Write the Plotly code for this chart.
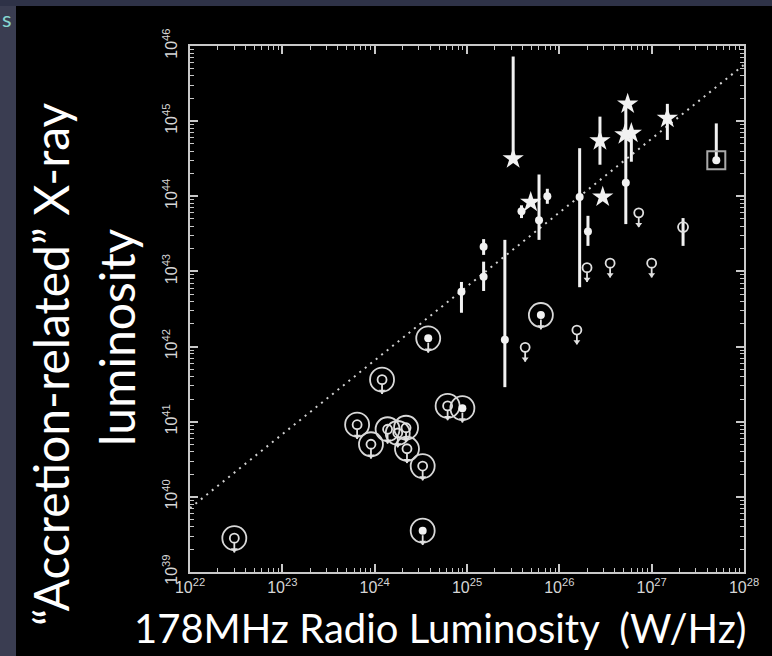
import numpy as np
import plotly.graph_objects as go

# ---------------- data (log10 units) ----------------
x_tick_exp = [22, 23, 24, 25, 26, 27, 28]
y_tick_exp = [39, 40, 41, 42, 43, 44, 45, 46]

# circled upper limits (open inner circle)
circ_open_x = [22.48, 23.81, 23.96, 24.14, 24.25, 24.34, 24.35, 24.52, 24.08, 24.79]
circ_open_y = [39.45, 40.96, 40.70, 40.90, 40.85, 40.92, 40.64, 40.41, 41.56, 41.21]
# circled upper limits (filled inner dot)
circ_fill_x = [24.52, 24.58, 24.95, 25.80]
circ_fill_y = [39.55, 42.11, 41.18, 42.42]
# plain upper limits
lim_x = [25.63, 26.19, 26.30, 26.55, 26.86, 27.00]
lim_y = [41.99, 42.22, 43.05, 43.11, 43.78, 43.11]
# open circle with error bar
ring_x = [27.34]
ring_y = [43.59]
ring_up = [0.12]
ring_dn = [0.25]
# filled dots with error bars
dot_x = [24.94, 25.18, 25.18, 25.41, 25.59, 25.78, 25.87, 26.22, 26.31, 26.72]
dot_y = [42.73, 43.33, 42.93, 42.09, 43.80, 43.68, 44.00, 43.99, 43.53, 44.18]
dot_up = [0.13, 0.10, 0.20, 1.33, 0.08, 0.61, 0.10, 0.65, 0.21, 1.05]
dot_dn = [0.28, 0.11, 0.19, 0.63, 0.09, 0.26, 0.10, 1.20, 0.19, 0.55]
# stars
star_x = [25.50, 25.69, 26.44, 26.47, 26.74, 26.71, 26.78, 27.17]
star_y = [44.50, 43.92, 44.74, 43.99, 45.23, 44.82, 44.84, 45.04]
star_up = [1.36, 0, 0.32, 0, 0, 0, 0.07, 0.19]
star_dn = [0.05, 0, 0.32, 0, 0, 0, 0.38, 0.29]
# boxed source
sq_x = [27.70]
sq_y = [44.48]
sq_up = [0.49]
sq_dn = [0.0]
# dotted relation
trend_x = [22, 28]
trend_y = [39.85, 45.75]

# ---------------- styling ----------------
W, H = 772, 656
X0, X1, Y0, Y1 = 190, 744, 46, 572
WHITE = "#f2f2f2"
LIGHT = "#e0e0e0"
FRAME = "#c8c8c8"
TICKFONT = dict(family="Liberation Sans, Arial, sans-serif", size=16, color="#d6d6d6")
TITLEFONT = "Lato, 'Open Sans', sans-serif"

STEM_TOP = 0.06
STEM_BOT = 0.19
HEAD = 0.155


def stems(xs, ys):
    sx, sy = [], []
    for a, b in zip(xs, ys):
        sx += [a, a, None]
        sy += [b - STEM_TOP, b - STEM_BOT, None]
    return sx, sy


fig = go.Figure()

fig.add_trace(go.Scatter(x=trend_x, y=trend_y, mode="lines",
                         line=dict(color="#d0d0d0", width=2, dash="2px,5px"),
                         hoverinfo="skip"))

# circled limits
all_circ_x = circ_open_x + circ_fill_x
all_circ_y = circ_open_y + circ_fill_y
fig.add_trace(go.Scatter(x=all_circ_x, y=all_circ_y, mode="markers",
                         marker=dict(symbol="circle-open", size=24, color="#d8d8d8",
                                     line=dict(color="#d8d8d8", width=1.8))))
sx, sy = stems(all_circ_x + lim_x, all_circ_y + lim_y)
fig.add_trace(go.Scatter(x=sx, y=sy, mode="lines",
                         line=dict(color=LIGHT, width=1.8)))
fig.add_trace(go.Scatter(x=all_circ_x + lim_x,
                         y=[v - HEAD for v in all_circ_y + lim_y], mode="markers",
                         marker=dict(symbol="triangle-down", size=6, color=LIGHT,
                                     line=dict(width=0))))
fig.add_trace(go.Scatter(x=circ_open_x, y=circ_open_y, mode="markers",
                         marker=dict(symbol="circle-open", size=9, color=LIGHT,
                                     line=dict(color=LIGHT, width=1.8))))
fig.add_trace(go.Scatter(x=circ_fill_x, y=circ_fill_y, mode="markers",
                         marker=dict(symbol="circle", size=8, color=WHITE)))
fig.add_trace(go.Scatter(x=lim_x, y=lim_y, mode="markers",
                         marker=dict(symbol="circle-open", size=9, color=LIGHT,
                                     line=dict(color=LIGHT, width=1.8))))

# open circle with error bar
fig.add_trace(go.Scatter(x=ring_x, y=ring_y, mode="markers",
                         marker=dict(symbol="circle-open", size=10, color=LIGHT,
                                     line=dict(color=LIGHT, width=1.8)),
                         error_y=dict(type="data", symmetric=False, array=ring_up,
                                      arrayminus=ring_dn, color=WHITE,
                                      thickness=3, width=0)))

# dots
fig.add_trace(go.Scatter(x=dot_x, y=dot_y, mode="markers",
                         marker=dict(symbol="circle", size=8, color=WHITE),
                         error_y=dict(type="data", symmetric=False, array=dot_up,
                                      arrayminus=dot_dn, color=WHITE,
                                      thickness=3, width=0)))
# stars
fig.add_trace(go.Scatter(x=star_x, y=star_y, mode="markers",
                         marker=dict(symbol="star", size=16, color=WHITE,
                                     line=dict(width=0)),
                         error_y=dict(type="data", symmetric=False, array=star_up,
                                      arrayminus=star_dn, color=WHITE,
                                      thickness=3, width=0)))
# boxed source
fig.add_trace(go.Scatter(x=sq_x, y=sq_y, mode="markers",
                         marker=dict(symbol="circle", size=8, color=WHITE),
                         error_y=dict(type="data", symmetric=False, array=sq_up,
                                      arrayminus=sq_dn, color=WHITE,
                                      thickness=3, width=0)))
fig.add_trace(go.Scatter(x=sq_x, y=sq_y, mode="markers",
                         marker=dict(symbol="square-open", size=18, color="#aaaaaa",
                                     line=dict(color="#aaaaaa", width=2))))

x_minor = [n + np.log10(k) for n in x_tick_exp[:-1] for k in range(2, 10)]
y_minor = [n + np.log10(k) for n in y_tick_exp[:-1] for k in range(2, 10)]

axis_common = dict(showgrid=False, zeroline=False, showline=True, linecolor=FRAME,
                   linewidth=2, mirror="allticks", ticks="inside", ticklen=8,
                   tickwidth=1.5, tickcolor=FRAME, tickfont=TICKFONT,
                   automargin=False)

fig.update_layout(
    template="none",
    width=W, height=H, margin=dict(l=0, r=0, t=0, b=0, pad=0), autosize=False,
    paper_bgcolor="black", plot_bgcolor="black", showlegend=False,
    xaxis=dict(range=[22, 28], domain=[X0 / W, X1 / W],
               tickvals=x_tick_exp,
               ticktext=[f"10<sup>{v}</sup>" for v in x_tick_exp],
               minor=dict(tickvals=x_minor, ticks="inside", ticklen=4,
                          tickwidth=1.2, tickcolor=FRAME),
               **axis_common),
    yaxis=dict(range=[39, 46], domain=[1 - Y1 / H, 1 - Y0 / H],
               tickvals=y_tick_exp,
               ticktext=[f"10<sup>{v}</sup>" for v in y_tick_exp],
               tickangle=-90, ticklabelstandoff=5,
               minor=dict(tickvals=y_minor, ticks="inside", ticklen=4,
                          tickwidth=1.2, tickcolor=FRAME),
               **axis_common),
    shapes=[
        dict(type="rect", xref="paper", yref="paper", x0=0, x1=16 / W, y0=0, y1=1,
             fillcolor="#3a3d51", line=dict(width=0)),
        dict(type="rect", xref="paper", yref="paper", x0=0, x1=1, y0=1 - 6 / H, y1=1,
             fillcolor="#2e3247", line=dict(width=0)),
    ],
    annotations=[
        dict(text="“Accretion-related” X-ray", textangle=-90,
             xref="paper", yref="paper", x=50 / W, y=1 - 364 / H,
             xanchor="center", yanchor="middle", showarrow=False,
             font=dict(family=TITLEFONT, size=48, color="white")),
        dict(text="luminosity", textangle=-90,
             xref="paper", yref="paper", x=116 / W, y=1 - 337 / H,
             xanchor="center", yanchor="middle", showarrow=False,
             font=dict(family=TITLEFONT, size=48, color="white")),
        dict(text="178MHz Radio Luminosity  (W/Hz)",
             xref="paper", yref="paper", x=440 / W, y=1 - 628 / H,
             xanchor="center", yanchor="middle", showarrow=False,
             font=dict(family=TITLEFONT, size=40, color="white")),
        dict(text="s", xref="paper", yref="paper", x=0, y=1 - 18 / H,
             xanchor="left", yanchor="middle", showarrow=False,
             font=dict(family=TITLEFONT, size=22, color="#86d6d0")),
    ],
)

fig.write_html("out.html",
               post_script="document.body.style.margin='0';"
                           "document.documentElement.style.margin='0';")
